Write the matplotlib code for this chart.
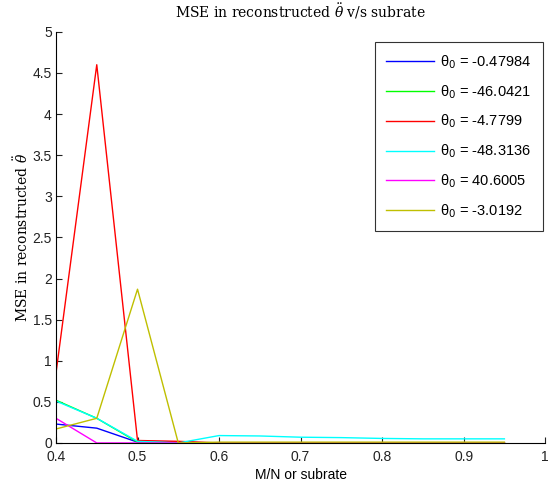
import matplotlib
matplotlib.use("Agg")
import matplotlib.pyplot as plt

# subrate values (M/N)
subrate = [0.40, 0.45, 0.50, 0.55, 0.60, 0.65, 0.70, 0.75, 0.80, 0.85, 0.90, 0.95]

theta0_labels = ["-0.47984", "-46.0421", "-4.7799", "-48.3136", "40.6005", "-3.0192"]
line_colors = ["#0000ff", "#00ff00", "#ff0000", "#00ffff", "#ff00ff", "#bfbf00"]

mse_blue    = [0.23, 0.18, 0.01, 0.01, 0.00, 0.00, 0.00, 0.00, 0.00, 0.00, 0.00, 0.00]
mse_green   = [0.52, 0.30, 0.01, 0.00, 0.00, 0.00, 0.00, 0.00, 0.00, 0.00, 0.00, 0.00]
mse_red     = [0.85, 4.60, 0.03, 0.02, 0.00, 0.00, 0.00, 0.00, 0.00, 0.00, 0.00, 0.00]
mse_cyan    = [0.51, 0.30, 0.02, 0.00, 0.09, 0.085, 0.07, 0.065, 0.055, 0.05, 0.05, 0.05]
mse_magenta = [0.30, 0.00, 0.00, 0.00, 0.00, 0.00, 0.00, 0.00, 0.00, 0.00, 0.00, 0.00]
mse_yellow  = [0.17, 0.30, 1.87, 0.00, 0.01, 0.01, 0.01, 0.01, 0.01, 0.01, 0.01, 0.01]

series = [mse_blue, mse_green, mse_red, mse_cyan, mse_magenta, mse_yellow]

plt.rcParams.update({
    "font.family": "Liberation Sans",
    "mathtext.fontset": "dejavuserif",
})

fig = plt.figure(figsize=(5.49, 4.90), dpi=100)
ax = fig.add_axes([0.102, 0.096, 0.891, 0.839])

for vals, lab, col in zip(series, theta0_labels, line_colors):
    ax.plot(subrate, vals, color=col, lw=1.0, label=r"θ$_\mathsf{0}$ = " + lab)

ax.set_xlim(0.4, 1.0)
ax.set_ylim(0, 5)
ax.set_xticks([0.4, 0.5, 0.6, 0.7, 0.8, 0.9, 1.0])
ax.set_xticklabels(["0.4", "0.5", "0.6", "0.7", "0.8", "0.9", "1"])
ax.set_yticks([0, 0.5, 1, 1.5, 2, 2.5, 3, 3.5, 4, 4.5, 5])
ax.set_yticklabels(["0", "0.5", "1", "1.5", "2", "2.5", "3", "3.5", "4", "4.5", "5"])
ax.tick_params(direction="in", length=4, labelsize=10, width=0.8, colors="#222222")
ax.tick_params(axis="y", pad=3)
ax.tick_params(axis="x", pad=5)
ax.spines["top"].set_visible(False)
ax.spines["right"].set_visible(False)

ax.set_xlabel("M/N or subrate", fontsize=10, labelpad=3)
ax.set_ylabel(r"MSE in reconstructed $\ddot{\theta}$", fontsize=10,
              family="DejaVu Serif", labelpad=1)
ax.set_title(r"MSE in reconstructed $\ddot{\theta}$ v/s subrate", fontsize=10,
             family="DejaVu Serif", pad=10)

leg = ax.legend(loc="upper right", bbox_to_anchor=(0.996, 0.976), fontsize=10.5,
                frameon=True, fancybox=False, edgecolor="black", borderaxespad=0,
                handlelength=3.3, labelspacing=0.85, borderpad=0.8, handletextpad=0.4)
leg.get_frame().set_linewidth(0.8)

fig.savefig("out.png", dpi=100, facecolor="white")
